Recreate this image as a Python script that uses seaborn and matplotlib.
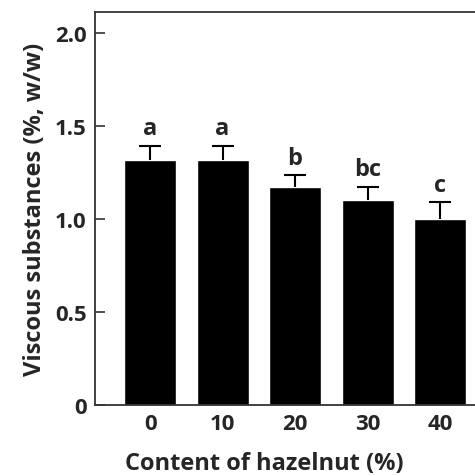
import numpy as np
import pandas as pd
import matplotlib
matplotlib.use("Agg")
import matplotlib.pyplot as plt
import seaborn as sns

# hazelnut content (%) and measured viscous substances (%, w/w)
content = ["0", "10", "20", "30", "40"]
viscous = [1.32, 1.32, 1.17, 1.10, 1.00]
sd = [0.075, 0.075, 0.065, 0.072, 0.09]
letters = ["a", "a", "b", "bc", "c"]

df = pd.DataFrame({"content": content, "viscous": viscous})

sns.set_style("ticks")
plt.rcParams['font.family'] = ['Open Sans', 'DejaVu Sans']
plt.rcParams['font.weight'] = 'bold'

fig = plt.figure(figsize=(4.75, 4.77), dpi=100)
ax = fig.add_axes([0.2, 0.1488, 0.8105, 0.8239])

sns.barplot(data=df, x="content", y="viscous", color="black", saturation=1,
            width=0.72, errorbar=None, ax=ax)

x = np.arange(len(content))
tops = np.array(viscous) + np.array(sd)
# upward-only error bars: stem + cap
ax.vlines(x, viscous, tops, color="black", linewidth=1.5, zorder=3)
ax.scatter(x, tops, marker="_", s=260, color="black", linewidths=1.5, zorder=3)

# significance letters above the bars
for xi, t, lab in zip(x, tops, letters):
    ax.annotate(lab, (xi, t), xytext=(0, 4), textcoords="offset points",
                ha="center", va="bottom", fontsize=17, fontweight="bold")

ax.set_xlim(-0.76, 4.55)
ax.set_ylim(0, 2.113)
ax.set_yticks([0, 0.5, 1.0, 1.5, 2.0])
ax.set_yticklabels(["0", "0.5", "1.0", "1.5", "2.0"])

ax.tick_params(axis="y", direction="in", length=7, width=1.2, labelsize=16, pad=6, color="#333333")
ax.tick_params(axis="x", length=0, labelsize=16, pad=6)
for s in ["left", "bottom", "top", "right"]:
    ax.spines[s].set_linewidth(1.3)
    ax.spines[s].set_color("#333333")

ax.set_xlabel("Content of hazelnut (%)", fontsize=17, fontweight="bold")
ax.set_ylabel("Viscous substances (%, w/w)", fontsize=17, fontweight="bold")
ax.xaxis.set_label_coords(0.44, -0.118)
ax.yaxis.set_label_coords(-0.125, 0.5)

fig.savefig("out.png", dpi=100)
